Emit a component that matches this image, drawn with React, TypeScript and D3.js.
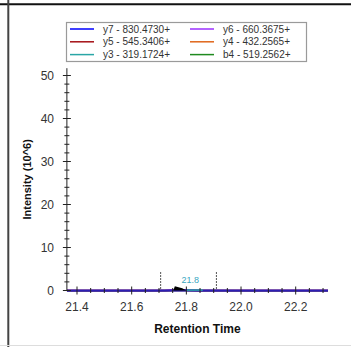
import React from "react";
import * as d3 from "d3";

const times = [21.363, 21.45, 21.55, 21.65, 21.72, 21.755, 21.765, 21.8, 21.85, 21.9, 22.0, 22.1, 22.2, 22.318];
const seriesNames = ["b4 - 519.2562+", "y3 - 319.1724+", "y4 - 432.2565+", "y5 - 545.3406+", "y6 - 660.3675+", "y7 - 830.4730+"];
const seriesColors = ["#1f8a1f", "#2aa6a6", "#e0661a", "#a50f15", "#9b30ff", "#0000ff"];
const seriesValues = [
  [0.02, 0.02, 0.02, 0.02, 0.02, 0.03, 0.03, 0.03, 0.02, 0.02, 0.02, 0.02, 0.02, 0.02],
  [0.02, 0.02, 0.02, 0.02, 0.03, 0.05, 0.08, 0.1, 0.08, 0.03, 0.02, 0.02, 0.02, 0.02],
  [0.02, 0.02, 0.02, 0.02, 0.02, 0.03, 0.03, 0.03, 0.02, 0.02, 0.02, 0.02, 0.02, 0.02],
  [0.02, 0.02, 0.02, 0.02, 0.02, 0.04, 0.05, 0.04, 0.02, 0.02, 0.02, 0.02, 0.02, 0.02],
  [0.02, 0.02, 0.02, 0.02, 0.02, 0.05, 0.06, 0.05, 0.02, 0.02, 0.02, 0.02, 0.02, 0.02],
  [0.02, 0.02, 0.02, 0.02, 0.02, 0.06, 0.08, 0.06, 0.02, 0.02, 0.02, 0.02, 0.02, 0.02],
];
const legendOrder = [5, 4, 3, 2, 1, 0];
const peakTimes = [21.752, 21.758, 21.785, 21.8];
const peakValues = [0, 1.0, 0.55, 0.0];
const tailTimes = [21.8, 21.86];
const tailValues = [0.1, 0.1];
const peakLabel = "21.8";
const peakLabelTime = 21.8;
const boundaryTimes = [21.706, 21.91];
const xTicks = [21.4, 21.6, 21.8, 22.0, 22.2];
const yTicks = [0, 10, 20, 30, 40, 50];
const xLabel = "Retention Time";
const yLabel = "Intensity (10^6)";

const FONT = "'Liberation Sans', Arial, sans-serif";

export default function App() {
  const W = 351, H = 347;
  const x = d3.scaleLinear().domain([21.4, 22.2]).range([77, 295.7]);
  const y = d3.scaleLinear().domain([0, 50]).range([290.5, 75.5]);
  const xMin = 21.363, xMax = 22.318;
  const yMax = 51.7;
  const x0 = x(xMin), x1 = x(xMax);
  const yTop = y(yMax), yBase = y(0);

  const xMinor = d3.range(21.4, 22.31, 0.05).map((v) => +v.toFixed(3)).filter((v) => !xTicks.some((t) => Math.abs(t - v) < 1e-6));
  const yMinor = d3.range(0, 51, 2).filter((v) => v % 10 !== 0);

  const line = d3.line<number>().x((_, i) => x(times[i])).y((v) => y(v));
  const area = d3.area<number>().x((_, i) => x(peakTimes[i])).y0(y(0)).y1((v) => y(v));
  const tail = d3.line<number>().x((_, i) => x(tailTimes[i])).y((v) => y(v));

  const lgX = 66, lgY = 22, lgW = 240, lgH = 39;
  const rowH = 12.8;
  const colX = [70, 190];

  return (
    <div style={{ position: "fixed", left: 0, top: 0 }}>
      <svg width={W} height={H} style={{ display: "block", background: "#fff" }} fontFamily={FONT}>
        <rect x={0} y={0} width={W} height={H} fill="#fff" />
        <line x1={0} x2={W} y1={4.3} y2={4.3} stroke="#111" strokeWidth={2} />
        <line x1={8.3} x2={8.3} y1={0} y2={H} stroke="#444" strokeWidth={2} />
        <line x1={0} x2={W} y1={345.5} y2={345.5} stroke="#ddd" strokeWidth={1} />

        {/* legend */}
        <rect x={lgX + 0.5} y={lgY + 0.5} width={lgW} height={lgH} fill="#fff" stroke="#9a9a9a" strokeWidth={1.2} />
        {legendOrder.map((si, k) => {
          const col = k % 2, row = Math.floor(k / 2);
          const cy = lgY + 7 + row * rowH;
          return (
            <g key={si}>
              <line x1={colX[col]} x2={colX[col] + 24} y1={cy} y2={cy} stroke={seriesColors[si]} strokeWidth={1.5} />
              <text x={colX[col] + 33} y={cy + 3.5} fontSize={10} fill="#333">{seriesNames[si]}</text>
            </g>
          );
        })}

        {/* boundaries */}
        {boundaryTimes.map((t) => (
          <line key={t} x1={x(t)} x2={x(t)} y1={272} y2={yBase} stroke="#555" strokeWidth={1} strokeDasharray="2,1" />
        ))}

        {/* series */}
        {seriesValues.map((vals, i) => (
          <path key={i} d={line(vals) || ""} fill="none" stroke={seriesColors[i]} strokeWidth={1.5} />
        ))}

        {/* axes */}
        <line x1={x0} x2={x0} y1={yTop} y2={yBase} stroke="#222" strokeWidth={1} />
        <line x1={x0} x2={x1} y1={yBase + 0.5} y2={yBase + 0.5} stroke="#3a2a9a" strokeWidth={1.5} />
        <path d={tail(tailValues) || ""} fill="none" stroke="#2aa6a6" strokeWidth={1.5} />
        <path d={area(peakValues) || ""} fill="#000" />
        <text x={x(peakLabelTime) + 4} y={283} fontSize={9} fill="#3aa6bf" textAnchor="middle">{peakLabel}</text>
        {yTicks.map((t) => (
          <g key={t}>
            <line x1={x0 - 4} x2={x0 + 4} y1={y(t)} y2={y(t)} stroke="#222" />
            <text x={54} y={y(t) + 4.5} fontSize={12} fill="#333" textAnchor="end">{t}</text>
          </g>
        ))}
        {yMinor.map((t) => (
          <line key={t} x1={x0 - 2.5} x2={x0 + 2.5} y1={y(t)} y2={y(t)} stroke="#222" />
        ))}
        {xTicks.map((t) => (
          <g key={t}>
            <line x1={x(t)} x2={x(t)} y1={yBase - 4} y2={yBase + 4} stroke="#222" />
            <text x={x(t)} y={311} fontSize={12} fill="#333" textAnchor="middle">{t.toFixed(1)}</text>
          </g>
        ))}
        {xMinor.map((t) => (
          <line key={t} x1={x(t)} x2={x(t)} y1={yBase - 2.5} y2={yBase + 2.5} stroke="#222" />
        ))}
        <text x={(x0 + x1) / 2} y={333} fontSize={12} fontWeight="bold" fill="#111" textAnchor="middle">{xLabel}</text>
        <text transform={`translate(31, ${(yTop + yBase) / 2}) rotate(-90)`} fontSize={11} fontWeight="bold" fill="#111" textAnchor="middle">{yLabel}</text>
      </svg>
    </div>
  );
}
